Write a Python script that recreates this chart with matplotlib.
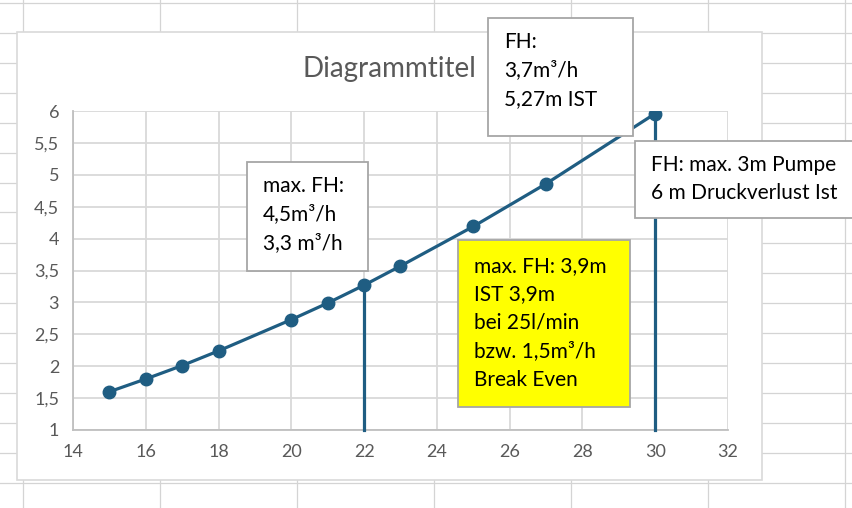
import matplotlib
matplotlib.use("Agg")
import matplotlib.pyplot as plt
from matplotlib.patches import Rectangle
from matplotlib.lines import Line2D

# Daten
x_vals = [15, 16, 17, 18, 20, 21, 22, 23, 25, 27, 30]
y_vals = [1.6, 1.8, 2.01, 2.24, 2.73, 2.99, 3.27, 3.57, 4.19, 4.86, 5.96]
drop_x = [22, 30]
drop_top = [3.27, 5.96]
x_ticks = [14, 16, 18, 20, 22, 24, 26, 28, 30, 32]
y_ticks = [1, 1.5, 2, 2.5, 3, 3.5, 4, 4.5, 5, 5.5, 6]
title = "Diagrammtitel"

box_texts = [
    ["max. FH:", "4,5m³/h", "3,3 m³/h"],
    ["FH:", "3,7m³/h", "5,27m IST"],
    ["FH: max. 3m Pumpe", "6 m Druckverlust Ist"],
    ["max. FH: 3,9m", "IST 3,9m", "bei 25l/min", "bzw. 1,5m³/h", "Break Even"],
]

W, H = 853, 508
plt.rcParams['font.family'] = ["Lato", 'DejaVu Sans']
col = "#1F5D82"
grey = "#595959"

fig = plt.figure(figsize=(W / 100, H / 100), dpi=100)
fig.patch.set_facecolor("white")


def fx(px):
    return px / W


def fy(py):
    return 1 - py / H


# Excel-Zellraster im Hintergrund
for px in [23, 160, 297, 434, 571, 708, 845]:
    fig.add_artist(Line2D([fx(px), fx(px)], [0, 1], color="#D4D4D4", lw=0.9, zorder=-5))
py = 2.5
while py < H:
    fig.add_artist(Line2D([0, 1], [fy(py), fy(py)], color="#D4D4D4", lw=0.9, zorder=-5))
    py += 30

# Diagrammbereich
fig.add_artist(Rectangle((fx(17), fy(480)), fx(762) - fx(17), fy(32) - fy(480),
                         facecolor="white", edgecolor="#D9D9D9", lw=1.2, zorder=-4))

ax = fig.add_axes([fx(73), fy(430), fx(728) - fx(73), fy(111) - fy(430)])
ax.set_facecolor("white")
ax.set_xlim(14, 32)
ax.set_ylim(1, 6)
ax.set_xticks(x_ticks)
ax.set_yticks(y_ticks)
ax.set_xticklabels([str(v) for v in x_ticks])
ax.set_yticklabels([f"{v:g}".replace(".", ",") for v in y_ticks])
ax.tick_params(length=0, labelsize=13, labelcolor=grey, pad=10)
ax.grid(True, color="#D9D9D9", lw=1.3)
ax.set_axisbelow(True)
for s in ["top", "right"]:
    ax.spines[s].set_visible(False)
for s in ["left", "bottom"]:
    ax.spines[s].set_color("#BFBFBF")
    ax.spines[s].set_linewidth(1.3)

ax.plot(x_vals, y_vals, color=col, lw=2.3, marker="o", ms=9, zorder=3)
for xv, yt in zip(drop_x, drop_top):
    ax.plot([xv, xv], [1, yt], color=col, lw=2.3, zorder=3, clip_on=False)

fig.text(fx(389), fy(77), title, ha="center", va="baseline", fontsize=20, color=grey)

# Textfelder: (links, oben, rechts, unten), Textanfang, erste Grundlinie, Farbe
boxes = [
    ((247, 162, 368, 271), 263, 192, "white"),
    ((488, 18, 633, 136), 504, 48, "white"),
    ((635, 141, 860, 218), 651, 171, "white"),
    ((458, 240, 630, 407), 474, 272, "#FFFF00"),
]
for (x0, y0, x1, y1), tx, ty, fc in boxes:
    fig.add_artist(Rectangle((fx(x0), fy(y1)), fx(x1) - fx(x0), fy(y0) - fy(y1),
                             facecolor=fc, edgecolor="#A6A6A6", lw=1.3, zorder=5))
for (box, tx, ty, fc), lines in zip(boxes, box_texts):
    for i, line in enumerate(lines):
        fig.text(fx(tx), fy(ty + i * 28.4), line, ha="left", va="baseline",
                 fontsize=15, color="black", zorder=6)

fig.savefig("out.png", dpi=100)
